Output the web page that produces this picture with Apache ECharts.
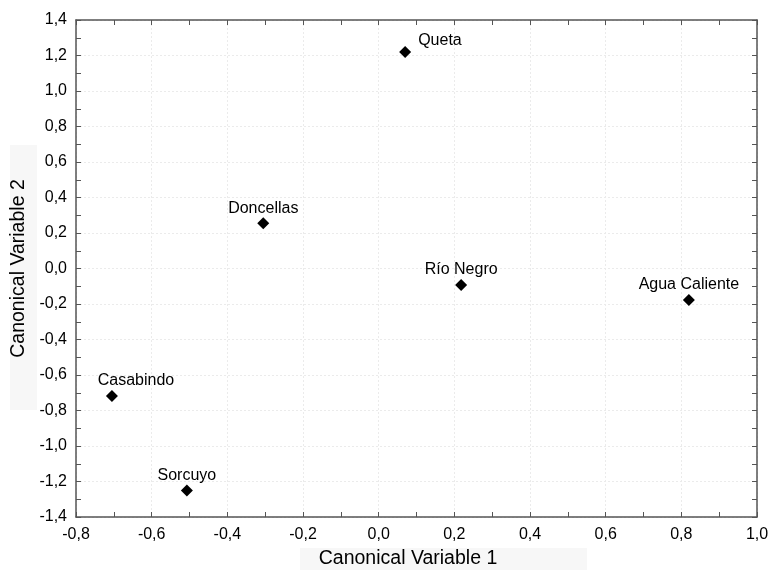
<!DOCTYPE html>
<html>
<head>
<meta charset="utf-8">
<script src="https://cdn.jsdelivr.net/npm/echarts@6/dist/echarts.min.js"></script>
<style>html,body{margin:0;padding:0;background:#fff;}#c{width:771px;height:570px;}</style>
</head>
<body>
<div id="c"></div>
<script>
const names = ['Queta','Doncellas','Río Negro','Agua Caliente','Casabindo','Sorcuyo'];
const xVals = [0.07, -0.305, 0.218, 0.82, -0.705, -0.507];
const yVals = [1.22, 0.255, -0.093, -0.177, -0.718, -1.25];

const labelStyle = {
  'Queta': {position: 'right', distance: 5, offset: [2, -11]},
  'Doncellas': {position: 'top'},
  'Río Negro': {position: 'top'},
  'Agua Caliente': {position: 'top'},
  'Casabindo': {position: 'top', offset: [24, 0]},
  'Sorcuyo': {position: 'top'}
};

const fmt = v => v.toFixed(1).replace('.', ',');
const font = 'Liberation Sans, Arial, sans-serif';
const tickStyle = {color: '#555', width: 1};
const axisCommon = {
  axisLine: {show: true, onZero: false, lineStyle: {color: '#555', width: 1.5}},
  axisTick: {show: true, inside: true, length: 5, lineStyle: tickStyle},
  minorTick: {show: true, splitNumber: 2, length: 5, lineStyle: tickStyle}
};

const chart = echarts.init(document.getElementById('c'));
chart.setOption({
  animation: false,
  backgroundColor: '#fff',
  grid: {left: 76, right: 14, top: 20, bottom: 53, containLabel: false, outerBoundsMode: 'none'},
  graphic: [
    {type: 'rect', left: 300, top: 548, shape: {width: 287, height: 22}, style: {fill: '#f7f7f7'}, z: -10},
    {type: 'rect', left: 10, top: 145, shape: {width: 27, height: 265}, style: {fill: '#f7f7f7'}, z: -10}
  ],
  xAxis: [{
    type: 'value', min: -0.8, max: 1.0, interval: 0.2, position: 'bottom',
    name: 'Canonical Variable 1', nameLocation: 'middle', nameGap: 32,
    nameTextStyle: {fontFamily: font, fontSize: 19.5, color: '#000', padding: [0, 17, 0, 0]},
    ...axisCommon,
    axisLabel: {formatter: fmt, fontFamily: font, fontSize: 16, color: '#000', margin: 10},
    splitLine: {show: true, lineStyle: {color: '#ebebeb', type: [2, 2]}}
  }, {
    type: 'value', min: -0.8, max: 1.0, interval: 0.2, position: 'top',
    ...axisCommon,
    axisLabel: {show: false}, splitLine: {show: false}
  }],
  yAxis: [{
    type: 'value', min: -1.4, max: 1.4, interval: 0.2, position: 'left',
    name: 'Canonical Variable 2', nameLocation: 'middle', nameGap: 45, nameRotate: 90,
    nameTextStyle: {fontFamily: font, fontSize: 19.5, color: '#000'},
    ...axisCommon,
    axisLabel: {formatter: fmt, fontFamily: font, fontSize: 16, color: '#000', margin: 9},
    splitLine: {show: true, lineStyle: {color: '#ebebeb', type: [2, 2]}}
  }, {
    type: 'value', min: -1.4, max: 1.4, interval: 0.2, position: 'right',
    ...axisCommon,
    axisLabel: {show: false}, splitLine: {show: false}
  }],
  series: [{
    type: 'scatter',
    symbol: 'diamond',
    symbolSize: 12,
    itemStyle: {color: '#000', opacity: 1},
    data: names.map((n, i) => ({
      name: n,
      value: [xVals[i], yVals[i]],
      label: Object.assign({show: true, formatter: n, fontFamily: font, fontSize: 16, color: '#000', distance: 1}, labelStyle[n])
    }))
  }]
});
</script>
</body>
</html>
